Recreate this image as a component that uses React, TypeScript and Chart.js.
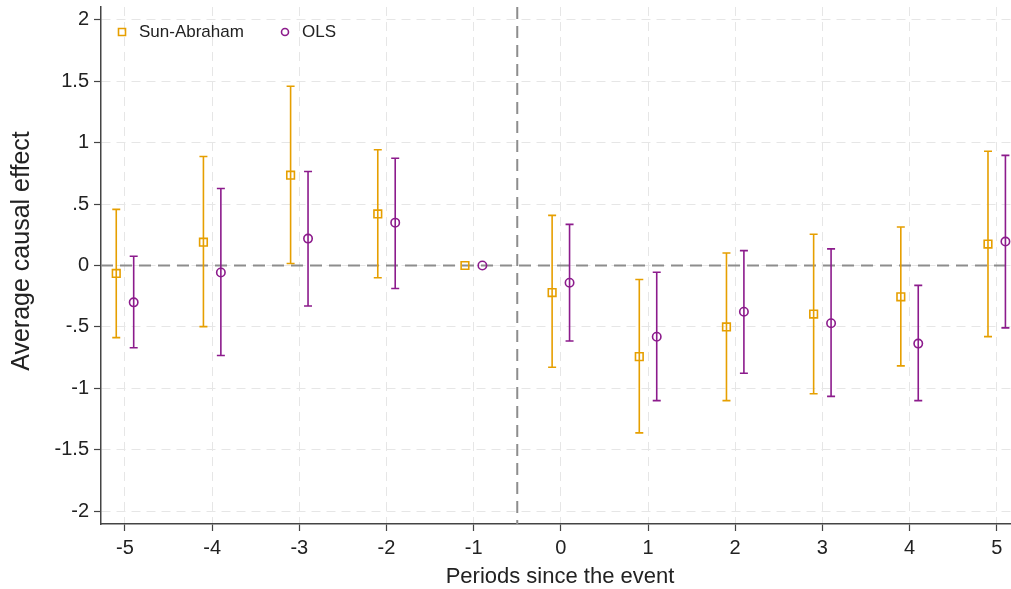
import React, { useEffect, useRef } from 'react';
import { Chart, registerables } from 'chart.js';

Chart.register(...registerables);

// ---- data ----
const periods = [-5, -4, -3, -2, -1, 0, 1, 2, 3, 4, 5];
const saEst = [-0.065, 0.19, 0.735, 0.42, 0, -0.22, -0.742, -0.5, -0.395, -0.255, 0.175];
const saLow = [-0.587, -0.498, 0.016, -0.1, null, -0.828, -1.363, -1.1, -1.044, -0.817, -0.579];
const saHigh = [0.457, 0.887, 1.46, 0.943, null, 0.408, -0.114, 0.102, 0.254, 0.313, 0.93];
const olsEst = [-0.3, -0.057, 0.219, 0.349, 0, -0.14, -0.58, -0.376, -0.47, -0.636, 0.195];
const olsLow = [-0.67, -0.733, -0.33, -0.187, null, -0.615, -1.1, -0.877, -1.066, -1.1, -0.508];
const olsHigh = [0.075, 0.627, 0.765, 0.873, null, 0.335, -0.055, 0.121, 0.135, -0.162, 0.897];
const seriesNames = ['Sun-Abraham', 'OLS'];
const seriesOffsets = [-0.1, 0.1];
const xTicks = [-5, -4, -3, -2, -1, 0, 1, 2, 3, 4, 5];
const yTicks = [2, 1.5, 1, 0.5, 0, -0.5, -1, -1.5, -2];
const yTickLabels = ['2', '1.5', '1', '.5', '0', '-.5', '-1', '-1.5', '-2'];
const zeroLine = 0;
const eventLine = -0.5;
const xTitle = 'Periods since the event';
const yTitle = 'Average causal effect';

const ORANGE = '#E69F00';
const PURPLE = '#8C1B8C';
const FONT = "'Liberation Sans', Arial, Helvetica, sans-serif";

const series = [
  { est: saEst, low: saLow, high: saHigh, color: ORANGE, style: 'rect', radius: 5.4 },
  { est: olsEst, low: olsLow, high: olsHigh, color: PURPLE, style: 'circle', radius: 4.2 },
];

const errorBarPlugin = {
  id: 'errorBarsAndRefs',
  beforeDatasetsDraw(chart: any) {
    const { ctx, chartArea, scales } = chart;
    const xs = scales.x;
    const ys = scales.y;
    ctx.save();
    ctx.beginPath();
    ctx.rect(chartArea.left, chartArea.top, chartArea.right - chartArea.left, chartArea.bottom - chartArea.top);
    ctx.clip();
    // reference lines
    ctx.strokeStyle = '#8d8d8d';
    ctx.lineWidth = 2;
    ctx.setLineDash([12, 7]);
    const y0 = ys.getPixelForValue(zeroLine);
    ctx.beginPath();
    ctx.moveTo(chartArea.left, y0);
    ctx.lineTo(chartArea.right, y0);
    ctx.stroke();
    const xe = xs.getPixelForValue(eventLine);
    ctx.beginPath();
    ctx.moveTo(xe, chartArea.top);
    ctx.lineTo(xe, chartArea.bottom);
    ctx.stroke();
    ctx.setLineDash([]);
    // error bars
    series.forEach((s, si) => {
      ctx.strokeStyle = s.color;
      ctx.lineWidth = 1.6;
      periods.forEach((p, i) => {
        const lo = s.low[i];
        const hi = s.high[i];
        if (lo == null || hi == null) return;
        const px = xs.getPixelForValue(p + seriesOffsets[si]);
        const pl = ys.getPixelForValue(lo);
        const ph = ys.getPixelForValue(hi);
        ctx.beginPath();
        ctx.moveTo(px, pl);
        ctx.lineTo(px, ph);
        ctx.moveTo(px - 4, pl);
        ctx.lineTo(px + 4, pl);
        ctx.moveTo(px - 4, ph);
        ctx.lineTo(px + 4, ph);
        ctx.stroke();
      });
    });
    ctx.restore();
  },
  afterDraw(chart: any) {
    const { ctx, chartArea } = chart;
    ctx.save();
    ctx.font = `17px ${FONT}`;
    ctx.fillStyle = '#222';
    ctx.textBaseline = 'middle';
    ctx.textAlign = 'left';
    const ly = chartArea.top + 25;
    let lx = chartArea.left + 21;
    series.forEach((s, si) => {
      ctx.strokeStyle = s.color;
      ctx.lineWidth = 1.6;
      ctx.beginPath();
      if (s.style === 'rect') {
        ctx.rect(lx - 3.5, ly - 3.5, 7, 7);
      } else {
        ctx.arc(lx, ly, 3.5, 0, Math.PI * 2);
      }
      ctx.stroke();
      ctx.fillText(seriesNames[si], lx + 17, ly);
      lx += 163;
    });
    // x axis title
    ctx.font = `22px ${FONT}`;
    ctx.textAlign = 'center';
    ctx.fillText(xTitle, 560, 577);
    // y axis title
    ctx.font = `25px ${FONT}`;
    ctx.translate(22, 251);
    ctx.rotate(-Math.PI / 2);
    ctx.fillText(yTitle, 0, 0);
    ctx.restore();
  },
};

const zeroPad = (sc: any) => {
  sc.paddingTop = 0;
  sc.paddingBottom = 0;
  sc.paddingLeft = 0;
  sc.paddingRight = 0;
};

export default function App() {
  const ref = useRef<HTMLCanvasElement | null>(null);
  useEffect(() => {
    if (!ref.current) return;
    Chart.defaults.font.family = FONT;
    const datasets = series.map((s, si) => ({
      label: seriesNames[si],
      data: periods.map((p, i) => ({ x: p + seriesOffsets[si], y: s.est[i] })),
      showLine: false,
      pointStyle: s.style,
      pointRadius: s.radius,
      pointHoverRadius: s.radius,
      pointBorderWidth: 1.6,
      borderColor: s.color,
      backgroundColor: 'rgba(0,0,0,0)',
      pointBackgroundColor: 'rgba(0,0,0,0)',
    }));
    const chart = new Chart(ref.current, {
      type: 'scatter',
      data: { datasets },
      plugins: [errorBarPlugin],
      options: {
        animation: false,
        responsive: false,
        devicePixelRatio: 1,
        layout: { autoPadding: false, padding: { top: 7, right: 0, left: 0, bottom: 0 } },
        plugins: { legend: { display: false }, tooltip: { enabled: false } },
        scales: {
          x: {
            type: 'linear',
            min: -5.275,
            max: 5.164,
            afterBuildTicks: (sc: any) => {
              sc.ticks = xTicks.map((v) => ({ value: v }));
            },
            afterFit: (sc: any) => {
              sc.height = 65;
              zeroPad(sc);
            },
            ticks: {
              color: '#222',
              font: { size: 20 },
              padding: 5,
              maxRotation: 0,
              autoSkip: false,
              callback: (v: any) => String(v),
            },
            grid: {
              color: '#e6e6e6',
              lineWidth: 1,
              tickLength: 7,
              tickColor: '#444',
              tickWidth: 1.2,
            },
            border: { display: true, color: '#444', width: 1.5, dash: [9, 6] },
            title: { display: false },
          },
          y: {
            type: 'linear',
            min: -2.105,
            max: 2.105,
            afterBuildTicks: (sc: any) => {
              sc.ticks = yTicks.map((v) => ({ value: v }));
            },
            afterFit: (sc: any) => {
              sc.width = 101;
              zeroPad(sc);
            },
            ticks: {
              color: '#222',
              font: { size: 20 },
              padding: 5,
              autoSkip: false,
              callback: (_v: any, i: number) => yTickLabels[i],
            },
            grid: {
              color: '#e6e6e6',
              lineWidth: 1,
              tickLength: 7,
              tickColor: '#444',
              tickWidth: 1.2,
            },
            border: { display: true, color: '#444', width: 1.5, dash: [9, 6] },
            title: { display: false },
          },
        },
      } as any,
    });
    return () => chart.destroy();
  }, []);
  return (
    <div style={{ position: 'fixed', left: 0, top: 0, width: 1011, height: 589, background: '#fff' }}>
      <canvas ref={ref} width={1011} height={589} style={{ display: 'block' }} />
    </div>
  );
}
